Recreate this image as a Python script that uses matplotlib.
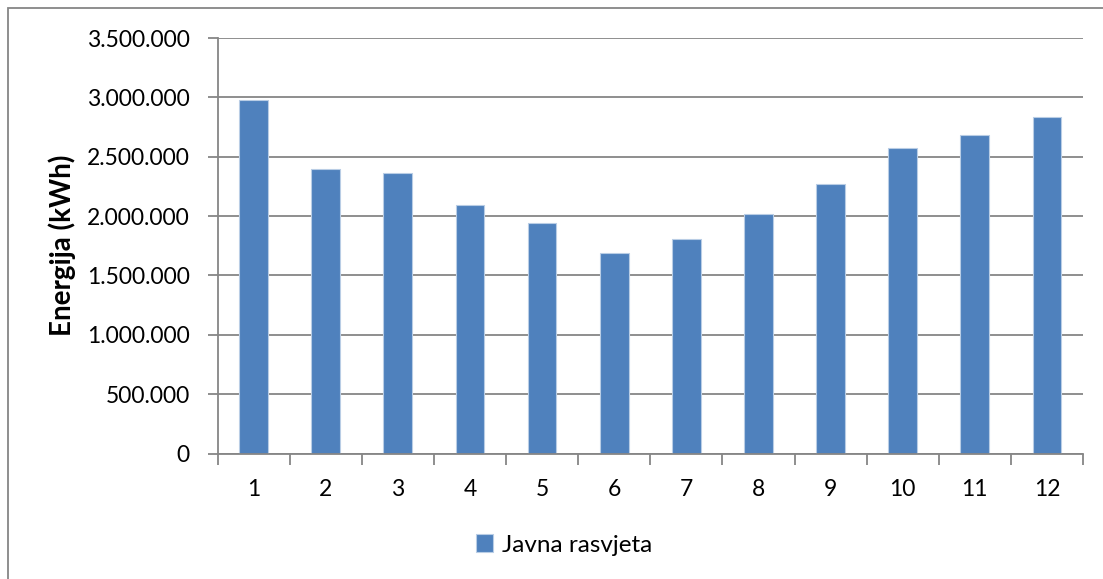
import matplotlib.pyplot as plt
from matplotlib.patches import Rectangle
from matplotlib.ticker import FuncFormatter, MultipleLocator, FixedLocator
import numpy as np

# monthly public lighting consumption
months = [1, 2, 3, 4, 5, 6, 7, 8, 9, 10, 11, 12]
energy = [2976000, 2397000, 2367000, 2092000, 1938000, 1685000,
          1806000, 2019000, 2266000, 2574000, 2687000, 2835000]
series_name = 'Javna rasvjeta'

plt.rcParams['font.family'] = ['Lato', 'DejaVu Sans']
grid_col = '#868686'
bar_col = '#4F81BD'

W, H = 1103, 579
fig = plt.figure(figsize=(W / 100, H / 100), dpi=100)
ax = fig.add_axes([217.5 / W, 1 - 453.5 / H, (1083 - 217.5) / W, (453.5 - 38) / H])

x = np.array(months)
ax.bar(x, energy, width=0.4, color=bar_col, edgecolor='#b9cde5', linewidth=0.8,
       label=series_name, zorder=3)

ax.set_xlim(0.5, 12.5)
ax.set_ylim(0, 3500000)
ax.yaxis.set_major_locator(MultipleLocator(500000))
ax.yaxis.set_major_formatter(FuncFormatter(lambda v, p: f'{int(v):,}'.replace(',', '.')))
ax.grid(axis='y', color=grid_col, linewidth=1.3, zorder=0)

ax.set_xticks(x)
ax.set_xticklabels([str(m) for m in months])
ax.xaxis.set_minor_locator(FixedLocator(np.arange(0.5, 13, 1)))
ax.tick_params(axis='x', which='major', length=0, pad=18, labelsize=16.5)
ax.tick_params(axis='x', which='minor', length=8, width=1.3, color=grid_col, direction='out')
ax.tick_params(axis='y', length=7, width=1.3, color=grid_col, pad=13, labelsize=16.5)

for s in ['top', 'right']:
    ax.spines[s].set_visible(False)
for s in ['left', 'bottom']:
    ax.spines[s].set_color(grid_col)
    ax.spines[s].set_linewidth(1.3)
    ax.spines[s].set_zorder(4)

ax.set_ylabel('Energija (kWh)', fontsize=20, fontweight='bold', labelpad=8)

fig.legend(loc='center', bbox_to_anchor=(564 / W, 1 - 545 / H), frameon=False,
           fontsize=17.5, handlelength=0.7, handleheight=0.7, handletextpad=0.35)

# outer chart frame
fig.patches.append(Rectangle((8 / W, -0.05), 1.1, 1 - 8 / H + 0.05, transform=fig.transFigure,
                             fill=False, edgecolor=grid_col, linewidth=1.3))

fig.savefig('out.png', dpi=100)
